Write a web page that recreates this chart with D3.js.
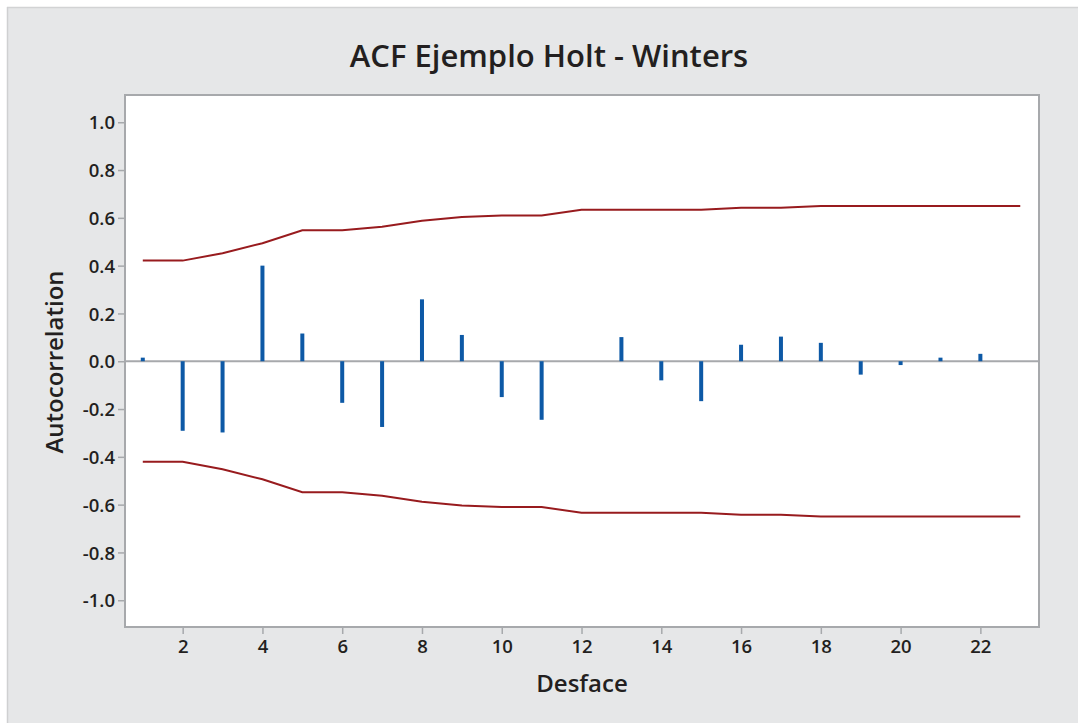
<!DOCTYPE html>
<html><head><meta charset="utf-8">
<script src="https://cdn.jsdelivr.net/npm/d3@7"></script>
<style>
html,body{margin:0;padding:0;background:#fff;}
svg{display:block;}
text{font-family:"Open Sans","Noto Sans",sans-serif;fill:#231f20;}
</style></head><body>
<svg id="c" width="1078" height="723"></svg>
<script>
const lags = [1,2,3,4,5,6,7,8,9,10,11,12,13,14,15,16,17,18,19,20,21,22];
const acf = [0.015,-0.291,-0.298,0.400,0.116,-0.174,-0.275,0.259,0.110,-0.150,-0.245,0.000,0.101,-0.080,-0.167,0.069,0.103,0.077,-0.056,-0.016,0.015,0.031];
const limitLags = [1,2,3,4,5,6,7,8,9,10,11,12,13,14,15,16,17,18,19,20,21,22,23];
const limits = [0.421,0.421,0.452,0.494,0.548,0.548,0.563,0.588,0.604,0.610,0.610,0.634,0.634,0.634,0.634,0.642,0.642,0.650,0.650,0.650,0.650,0.650,0.650];
const yTicks = [-1.0,-0.8,-0.6,-0.4,-0.2,0.0,0.2,0.4,0.6,0.8,1.0];
const xTicks = [2,4,6,8,10,12,14,16,18,20,22];
const title = "ACF Ejemplo Holt - Winters";
const xLabel = "Desface";
const yLabel = "Autocorrelation";

const svg = d3.select("#c");
// outer panel
svg.append("rect").attr("x",7).attr("y",7).attr("width",1071).attr("height",716).attr("fill","#e6e7e8");
svg.append("line").attr("x1",7).attr("x2",1078).attr("y1",7.5).attr("y2",7.5).attr("stroke","#d2d3d4").attr("stroke-width",1.5);
svg.append("line").attr("x1",7.5).attr("x2",7.5).attr("y1",7).attr("y2",723).attr("stroke","#cfd0d1").attr("stroke-width",1.5);

const L=125, R=1039, T=95, B=627;
const x = d3.scaleLinear().domain([0.554,23.47]).range([L,R]);
const y = d3.scaleLinear().domain([-1.112,1.114]).range([B,T]);

svg.append("rect").attr("x",L).attr("y",T).attr("width",R-L).attr("height",B-T).attr("fill","#fff")
  .attr("stroke","#a7a9ac").attr("stroke-width",2);

// axes
const yAxis = d3.axisLeft(y).tickValues(yTicks).tickSize(6).tickFormat(d3.format(".1f"));
const gy = svg.append("g").attr("transform",`translate(${L-1},0)`).call(yAxis);
gy.select(".domain").remove();
gy.selectAll(".tick line").attr("stroke","#a7a9ac").attr("stroke-width",1.5);
gy.selectAll(".tick text").attr("x",-9).attr("dy","0.36em").style("font-size","18.5px").style("font-weight","600").style("fill","#231f20")
  .text(d=> d<0 ? "-"+Math.abs(d).toFixed(1) : d.toFixed(1));

const xAxis = d3.axisBottom(x).tickValues(xTicks).tickSize(6).tickFormat(d3.format("d"));
const gx = svg.append("g").attr("transform",`translate(0,${B+1})`).call(xAxis);
gx.select(".domain").remove();
gx.selectAll(".tick line").attr("stroke","#a7a9ac").attr("stroke-width",1.5);
gx.selectAll(".tick text").attr("y",12).style("font-size","18.5px").style("font-weight","600").style("fill","#231f20");

// zero line
svg.append("line").attr("x1",L).attr("x2",R).attr("y1",y(0)).attr("y2",y(0)).attr("stroke","#a7a9ac").attr("stroke-width",2);

// bars
svg.append("g").selectAll("rect").data(lags.map((l,i)=>({l,v:acf[i]})).filter(d=>d.v!==0)).join("rect")
  .attr("x",d=>x(d.l)-2).attr("width",4)
  .attr("y",d=>d.v>0?y(d.v):y(0))
  .attr("height",d=>Math.abs(y(d.v)-y(0)))
  .attr("fill","#0d59a6");

// limit lines
const line = d3.line().x(d=>x(d[0])).y(d=>y(d[1]));
svg.append("path").datum(limitLags.map((l,i)=>[l,limits[i]])).attr("d",line).attr("fill","none").attr("stroke","#981b1e").attr("stroke-width",2);
svg.append("path").datum(limitLags.map((l,i)=>[l,-limits[i]])).attr("d",line).attr("fill","none").attr("stroke","#981b1e").attr("stroke-width",2);

// titles
svg.append("text").attr("x",549).attr("y",67).attr("text-anchor","middle").style("font-size","31px").style("font-weight","600").text(title);
svg.append("text").attr("x",582).attr("y",692).attr("text-anchor","middle").style("font-size","24px").style("font-weight","600").text(xLabel);
svg.append("text").attr("transform","translate(63,362) rotate(-90)").attr("text-anchor","middle").style("font-size","24px").style("font-weight","600").text(yLabel);
</script>
</body></html>
